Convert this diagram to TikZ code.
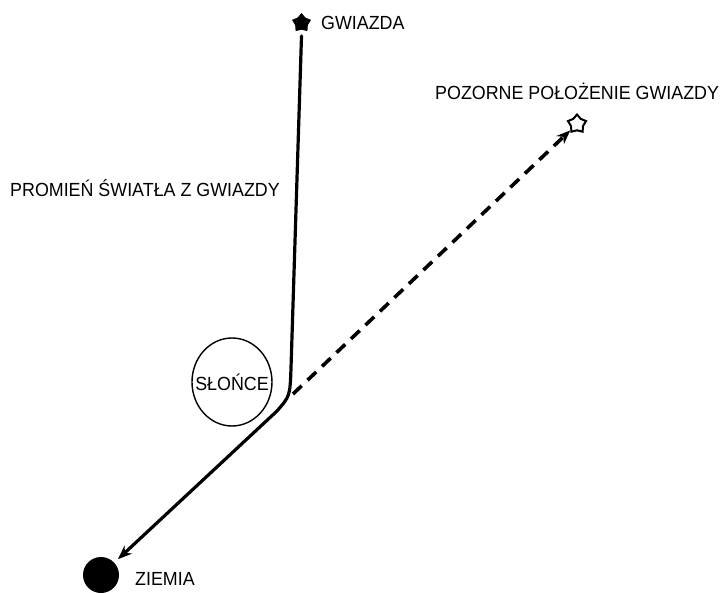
\documentclass[tikz,border=0pt]{standalone}
\usepackage{fontspec}
\setmainfont[FakeStretch=0.94]{Liberation Sans}
\usepackage{tikz}
\usetikzlibrary{arrows.meta,shapes.geometric,positioning}
\tikzstyle{ray}=[line width=3.2pt,line cap=round,line join=round]
\tikzstyle{txt}=[inner sep=0pt,font=\fontsize{19}{22}\selectfont]

\begin{document}
\begin{tikzpicture}[x=1pt,y=-1pt]
            \useasboundingbox (0,0) rectangle (720,593);
            \node[star,star points=5,fill=black,minimum size=20pt,inner sep=0pt] (star) at (301.5,23) {};
            \node[star,star points=5,draw,line width=2pt,minimum size=19pt,inner sep=0pt] (apparent) at (577,124) {};
            \node[ellipse,draw,line width=1.4pt,minimum width=80pt,minimum height=88pt,inner sep=0pt] (sun) at (232,382) {};
            \node[circle,fill=black,minimum size=36pt,inner sep=0pt] (earth) at (101,575) {};
            % labels
            \node[txt,anchor=base west] (starlbl) at (321,30) {GWIAZDA};
            \node[txt,anchor=base west] (apparentlbl) at (435,100) {POZORNE POŁOŻENIE GWIAZDY};
            \node[txt,anchor=base west] (raylbl) at (10,197) {PROMIEŃ ŚWIATŁA Z GWIAZDY};
            \node[txt,anchor=base] (sunlbl) at ([yshift=-9pt]sun.center) {SŁOŃCE};
            \node[txt,anchor=base west] (earthlbl) at (135,585) {ZIEMIA};
            % light ray bent by the sun
            \coordinate (bend) at (291,368);
            \coordinate (out) at (277,411);
            \coordinate (fork) at (293,394); % start of apparent direction
            \draw[ray,shorten >=5pt,-{Stealth[length=14pt,width=11pt]}] ([yshift=-13pt]star.center) -- (bend) .. controls (290,396) .. (out) -- (earth);
            \draw[ray,line width=3.6pt,line cap=butt,dash pattern=on 12pt off 8pt,-{Stealth[length=14pt,width=11pt]}] (fork) -- (apparent);
\end{tikzpicture}
\end{document}
